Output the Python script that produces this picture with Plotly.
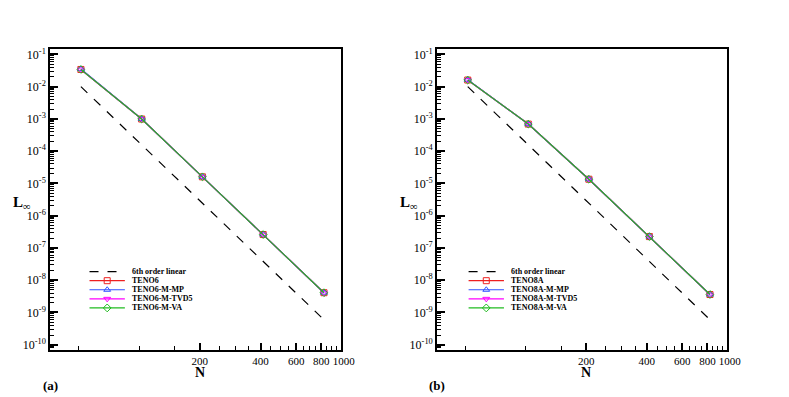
import math
import plotly.graph_objects as go

# grid sizes
N = [51.5, 103, 206, 412, 824]

# reference slope, 6th order
ref6 = [1.0e-2, 1.56e-4, 2.44e-6, 3.81e-8, 5.96e-10]

# panel (a)
teno6 = [3.4e-2, 9.9e-4, 1.6e-5, 2.6e-7, 4.1e-9]
teno6_mp = [3.5e-2, 9.9e-4, 1.6e-5, 2.6e-7, 4.1e-9]
teno6_tvd5 = [3.4e-2, 9.9e-4, 1.6e-5, 2.6e-7, 4.1e-9]
teno6_va = [3.4e-2, 9.9e-4, 1.6e-5, 2.6e-7, 4.1e-9]

# panel (b)
teno8a = [1.6e-2, 6.9e-4, 1.35e-5, 2.25e-7, 3.6e-9]
teno8a_mp = [1.62e-2, 6.9e-4, 1.35e-5, 2.25e-7, 3.6e-9]
teno8a_tvd5 = [1.6e-2, 6.9e-4, 1.35e-5, 2.25e-7, 3.6e-9]
teno8a_va = [1.6e-2, 6.9e-4, 1.35e-5, 2.25e-7, 3.6e-9]

x_major = [200, 400, 600, 800, 1000]
x_major_text = ["200", "400", "600", "800", "&nbsp;&nbsp;1000"]
x_minor = [50, 100, 150, 250, 300, 350, 450, 500, 550, 650, 700, 750, 850, 900, 950]
y_exp = list(range(-1, -11, -1))
y_minor = [k * 10 ** e for e in range(-11, 0) for k in range(2, 10)]

FONT = "Liberation Serif"
# the page body keeps its default 8px margin, so the figure is drawn 8px in
OFF = 8
W, H = 789 - OFF, 397 - OFF
COLORS = ["#ee2020", "#3050ff", "#ff00ff", "#20bb20"]
SYMBOLS = ["square-open", "triangle-up-open", "triangle-down-open", "diamond-open"]
X_RANGE = [math.log10(36.3), 3]
Y_RANGE = [-10.15, -0.85]


def px_x(p):
    return (p - OFF) / W


def px_y(p):
    return 1 - (p - OFF) / H


fig = go.Figure()

panels = [
    (1, ["TENO6", "TENO6-M-MP", "TENO6-M-TVD5", "TENO6-M-VA"],
     [teno6, teno6_mp, teno6_tvd5, teno6_va]),
    (2, ["TENO8A", "TENO8A-M-MP", "TENO8A-M-TVD5", "TENO8A-M-VA"],
     [teno8a, teno8a_mp, teno8a_tvd5, teno8a_va]),
]

for k, names, series in panels:
    xa, ya = f"x{k}", f"y{k}"
    fig.add_scatter(x=N, y=ref6, xaxis=xa, yaxis=ya, mode="lines",
                    line=dict(color="black", width=1.2, dash="dash"), showlegend=False)
    for name, ys, c, s in zip(names, series, COLORS, SYMBOLS):
        fig.add_scatter(x=N, y=ys, xaxis=xa, yaxis=ya, mode="lines+markers", name=name,
                        line=dict(color=c, width=1.2),
                        marker=dict(symbol=s, size=6, color=c, line=dict(width=1, color=c)),
                        showlegend=False)

tick_font = dict(family=FONT, size=11, color="black")
x_dom = [(51, 347), (445, 740)]
y_dom = [px_y(351), px_y(47)]
annotations = []
legend_x = [91, 477]
layout = {}

for i, (k, names, _) in enumerate(panels):
    xd = [px_x(x_dom[i][0]), px_x(x_dom[i][1])]
    # main axes with labels and major ticks
    layout[f"xaxis{k}"] = dict(
        type="log", domain=xd, range=X_RANGE, anchor=f"y{k}",
        showgrid=False, zeroline=False, showline=True, linewidth=2, linecolor="black",
        mirror=True, ticks="inside", ticklen=7, tickwidth=1.5, tickcolor="black",
        tickvals=x_major, ticktext=x_major_text, tickfont=tick_font, tickangle=0)
    layout[f"yaxis{k}"] = dict(
        type="log", domain=y_dom, range=Y_RANGE, anchor=f"x{k}",
        showgrid=False, zeroline=False, showline=True, linewidth=2, linecolor="black",
        mirror=True, ticks="inside", ticklen=8, tickwidth=1.5, tickcolor="black",
        tickvals=[10 ** e for e in y_exp], ticktext=[f"10<sup>{e}</sup>" for e in y_exp],
        tickfont=dict(tick_font, size=12))
    # overlay axes for the minor ticks
    mx, my = k + 2, k + 2
    layout[f"xaxis{mx}"] = dict(
        type="log", domain=xd, range=X_RANGE, anchor=f"y{k}", overlaying=f"x{k}",
        showgrid=False, zeroline=False, showline=False, ticks="inside", ticklen=4,
        tickwidth=1, tickcolor="black", tickvals=x_minor, showticklabels=False)
    layout[f"yaxis{my}"] = dict(
        type="log", domain=y_dom, range=Y_RANGE, anchor=f"x{k}", overlaying=f"y{k}",
        showgrid=False, zeroline=False, showline=False, ticks="inside", ticklen=4,
        tickwidth=1, tickcolor="black", tickvals=y_minor, showticklabels=False)

    cx = (x_dom[i][0] + x_dom[i][1]) / 2 + 4
    annotations.append(dict(text="<b>N</b>", x=px_x(cx), y=px_y(374), xref="paper", yref="paper",
                            xanchor="center", yanchor="middle", showarrow=False,
                            font=dict(family=FONT, size=14, color="black")))
    annotations.append(dict(text="<b>L</b><sub>∞</sub>", x=px_x(x_dom[i][0] - 40), y=px_y(202),
                            xref="paper", yref="paper", xanchor="left", yanchor="middle",
                            showarrow=False, font=dict(family=FONT, size=15, color="black")))
    annotations.append(dict(text="<b>(a)</b>" if i == 0 else "<b>(b)</b>",
                            x=px_x(x_dom[i][0]), y=px_y(387), xref="paper", yref="paper",
                            xanchor="center", yanchor="middle", showarrow=False,
                            font=dict(family=FONT, size=13, color="black")))

    # hand-drawn legend (plotly's rows are too tall)
    lx0 = legend_x[i]
    rows = [("6th order linear", "black", None, "dash")] + \
           [(n, c, s, "solid") for n, c, s in zip(names, COLORS, SYMBOLS)]
    for r, (label, c, s, dash) in enumerate(rows):
        yy = px_y(272 + r * 9.2)
        fig.add_scatter(x=[px_x(lx0), px_x(lx0 + 36)], y=[yy, yy], xaxis="x5", yaxis="y5",
                        mode="lines", line=dict(color=c, width=1.2, dash=dash),
                        showlegend=False, hoverinfo="skip")
        if s:
            fig.add_scatter(x=[px_x(lx0 + 18)], y=[yy], xaxis="x5", yaxis="y5", mode="markers",
                            marker=dict(symbol=s, size=6, color=c, line=dict(width=1, color=c)),
                            showlegend=False, hoverinfo="skip")
        annotations.append(dict(text=f"<b>{label}</b>", x=px_x(lx0 + 41), y=yy,
                                xref="paper", yref="paper", xanchor="left", yanchor="middle",
                                showarrow=False, font=dict(family=FONT, size=8, color="black")))

# dummy traces so the minor-tick overlay axes are drawn
for k in (3, 4):
    fig.add_scatter(x=[N[0]], y=[ref6[0]], xaxis=f"x{k}", yaxis=f"y{k}", mode="markers",
                    marker=dict(opacity=0), showlegend=False, hoverinfo="skip")

layout["xaxis5"] = dict(domain=[0, 1], range=[0, 1], visible=False, anchor="y5")
layout["yaxis5"] = dict(domain=[0, 1], range=[0, 1], visible=False, anchor="x5")

fig.update_layout(layout)
fig.update_layout(
    annotations=annotations,
    width=W, height=H,
    margin=dict(l=0, r=0, t=0, b=0),
    # transparent plot area so the full-page legend subplot does not hide the panels
    plot_bgcolor="rgba(0,0,0,0)", paper_bgcolor="white",
    showlegend=False,
)

fig.write_html("out.html")
